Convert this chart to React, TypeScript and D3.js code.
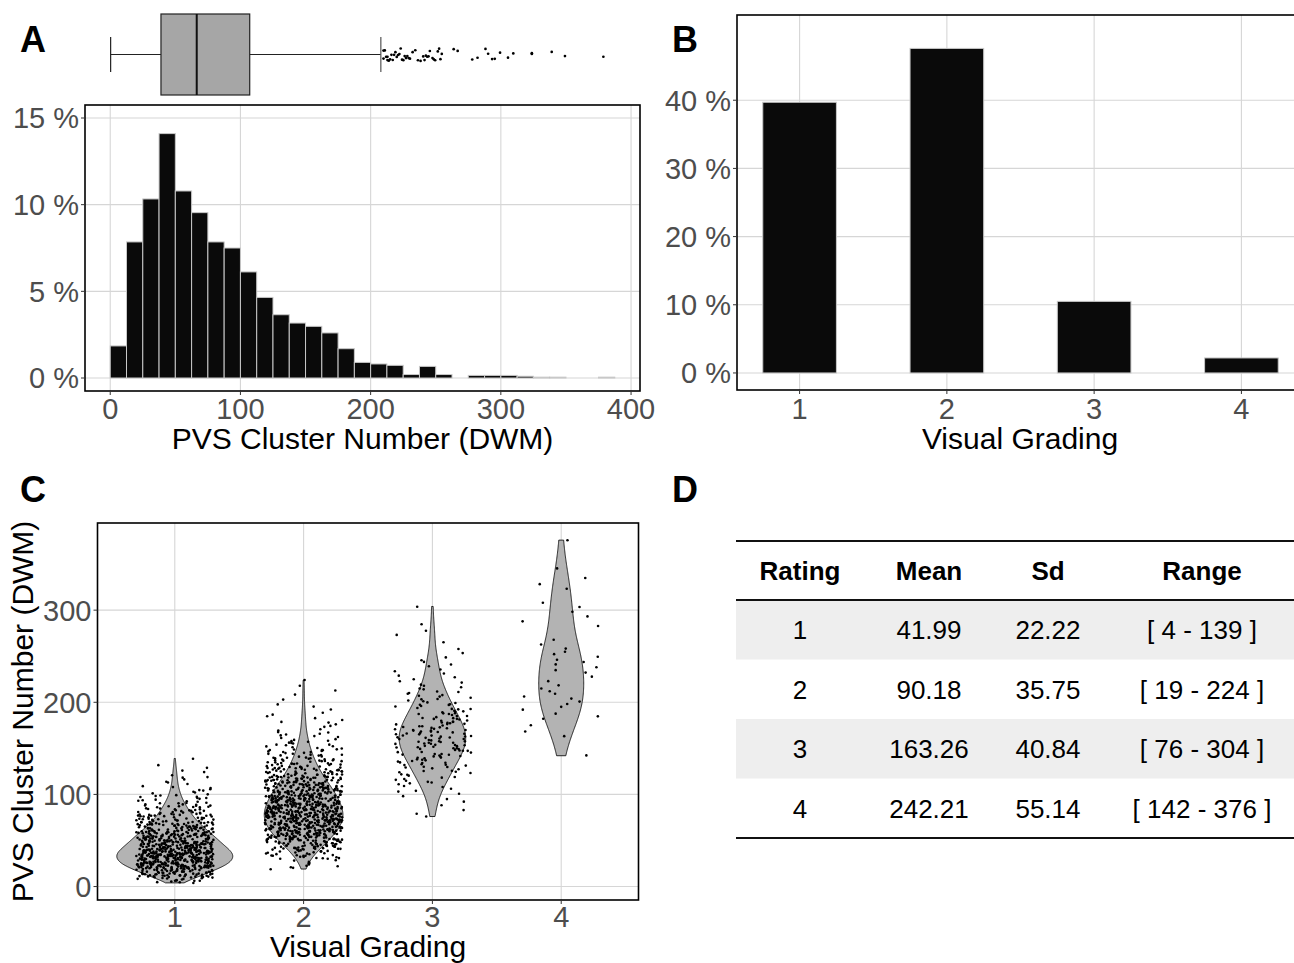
import React from 'react';
import * as d3 from 'd3';

// ---------------- DATA ----------------
// Panel A: histogram (bin width 12.5, starting at 0), percent of subjects
const histBinWidth = 12.5;
const histPercents = [1.85, 7.85, 10.33, 14.1, 10.79, 9.54, 7.85, 7.5, 6.12, 4.65, 3.65, 3.17, 2.98, 2.6, 1.69, 0.9, 0.81, 0.73, 0.2, 0.67, 0.2, 0, 0.15, 0.15, 0.15, 0.1, 0.05, 0.05, 0, 0, 0.05];
const histXTicks = [0, 100, 200, 300, 400];
const histYTicks = [0, 5, 10, 15];

// Panel A: boxplot summary [lower whisker, Q1, median, Q3, upper whisker]
const boxSummary = [4, 42, 69, 109, 208];
const boxOutliers = [210, 210, 211, 212, 213, 213, 214, 215, 216, 217, 218, 219, 220, 221, 222, 223, 224, 225, 226, 227, 228, 229, 230, 232, 234, 236, 238, 240, 241, 242, 243, 244, 245, 247, 248, 249, 251, 252, 253, 254, 263, 266, 277, 281, 287, 289, 292, 294, 298, 304, 308, 322, 322, 337, 347, 376];

// Panel B: visual grading distribution
const grades = [1, 2, 3, 4];
const gradePercents = [39.7, 47.6, 10.5, 2.2];
const gradeYTicks = [0, 10, 20, 30, 40];

// Panel C: PVS counts per grade, binned (bin width 10) counts
const clusterBinWidth = 10;
const g1Start = 0;
const g1Counts = [16, 74, 125, 135, 108, 87, 62, 42, 28, 17, 9, 6, 4, 2];
const g2Start = 10;
const g2Counts = [2, 10, 28, 55, 80, 100, 110, 105, 95, 80, 62, 45, 33, 22, 15, 9, 6, 5, 3, 2, 2, 1];
const g3Start = 70;
const g3Counts = [2, 2, 3, 6, 9, 12, 15, 19, 21, 22, 19, 16, 13, 10, 7, 5, 4, 4, 2, 1, 2, 1, 0, 1];
const g4Start = 140;
const g4Counts = [1, 0, 2, 1, 3, 3, 4, 3, 2, 3, 4, 3, 2, 0, 2, 2, 2, 0, 2, 1, 1, 0, 0, 1];
const groupMins = [4, 19, 76, 142];
const groupMaxs = [139, 224, 304, 376];
const violinYTicks = [0, 100, 200, 300];

// Panel D: table
const tableHeaders = ['Rating', 'Mean', 'Sd', 'Range'];
const tableRating = ['1', '2', '3', '4'];
const tableMean = ['41.99', '90.18', '163.26', '242.21'];
const tableSd = ['22.22', '35.75', '40.84', '55.14'];
const tableRange = ['[ 4 - 139 ]', '[ 19 - 224 ]', '[ 76 - 304 ]', '[ 142 - 376 ]'];

// ---------------- HELPERS ----------------
const FONT = '"Liberation Sans", Arial, Helvetica, sans-serif';
const GRID = '#d6d6d6';
const TICKC = '#333333';
const TICKTXT = '#4d4d4d';
const TICK_FS = 29;
const TITLE_FS = 30;

function expandBins(start: number, width: number, counts: number[], min: number, max: number): number[] {
  const vals: number[] = [];
  counts.forEach((c, i) => {
    const lo = Math.max(start + i * width, min);
    const hi = Math.min(start + (i + 1) * width, max);
    for (let k = 0; k < c; k++) vals.push(Math.round(lo + ((k + 0.5) / c) * (hi - lo)));
  });
  vals[0] = min;
  vals[vals.length - 1] = max;
  return vals;
}

function kde(values: number[], lo: number, hi: number, n = 256): [number, number][] {
  const sorted = values.slice().sort((a, b) => a - b);
  const sd = d3.deviation(sorted) || 1;
  const iqr = (d3.quantile(sorted, 0.75)! - d3.quantile(sorted, 0.25)!) / 1.34;
  const bw = 0.9 * Math.min(sd, iqr > 0 ? iqr : sd) * Math.pow(sorted.length, -0.2);
  const out: [number, number][] = [];
  for (let i = 0; i < n; i++) {
    const y = lo + ((hi - lo) * i) / (n - 1);
    let s = 0;
    for (const v of sorted) {
      const z = (y - v) / bw;
      s += Math.exp(-0.5 * z * z);
    }
    out.push([y, s / (sorted.length * bw * Math.sqrt(2 * Math.PI))]);
  }
  return out;
}

const frac = (x: number) => x - Math.floor(x);
// deterministic hash in [0,1) used only for jitter offsets (position, not data)
const hash = (a: number, b: number) => frac(Math.sin(a * 12.9898 + b * 78.233) * 43758.5453);

export default function App() {
  // ---------- Panel A scales ----------
  const xH = d3.scaleLinear().domain([-19.375, 406.875]).range([85, 640]);
  const yH = d3.scaleLinear().domain([-0.75, 15.75]).range([391, 105]);
  const xBx = d3.scaleLinear().domain([-14.6, 394.6]).range([86, 628]);
  const boxTop = 14, boxBot = 95, boxMid = 54.5;

  // ---------- Panel B scales ----------
  const xG = d3.scaleLinear().domain([0.575, 4.425]).range([737, 1304]);
  const yG = d3.scaleLinear().domain([-2.5, 52.5]).range([390, 15]);

  // ---------- Panel C scales ----------
  const xV = d3.scaleLinear().domain([0.4, 4.6]).range([97.5, 638.5]);
  const yV = d3.scaleLinear().domain([-14.6, 394.6]).range([900, 523]);
  const band = xV(2) - xV(1);

  const groupsData = [
    expandBins(g1Start, clusterBinWidth, g1Counts, groupMins[0], groupMaxs[0]),
    expandBins(g2Start, clusterBinWidth, g2Counts, groupMins[1], groupMaxs[1]),
    expandBins(g3Start, clusterBinWidth, g3Counts, groupMins[2], groupMaxs[2]),
    expandBins(g4Start, clusterBinWidth, g4Counts, groupMins[3], groupMaxs[3]),
  ];
  const densities = groupsData.map((vals, i) => kde(vals, groupMins[i], groupMaxs[i]));
  const maxDens = d3.max(densities.flat(), (d) => d[1]) || 1;

  const violinPaths = densities.map((dens, i) => {
    const cx = xV(grades[i]);
    const area = d3
      .area<[number, number]>()
      .y((d) => yV(d[0]))
      .x0((d) => cx - (d[1] / maxDens) * 0.45 * band)
      .x1((d) => cx + (d[1] / maxDens) * 0.45 * band);
    return area(dens) || '';
  });

  const points: { x: number; y: number }[] = [];
  groupsData.forEach((vals, gi) => {
    vals.forEach((v, k) => {
      const jx = (hash(k + 1, gi + 1) * 2 - 1) * 0.3;
      const jy = (hash(k + 7, gi + 31) * 2 - 1) * 0.4;
      points.push({ x: xV(grades[gi] + jx), y: yV(v + jy) });
    });
  });

  const axisText = { fontFamily: FONT, fontSize: TICK_FS, fill: TICKTXT } as const;
  const titleText = { fontFamily: FONT, fontSize: TITLE_FS, fill: '#000' } as const;
  const labelText = { fontFamily: FONT, fontSize: 36, fontWeight: 700, fill: '#000' } as const;

  // table layout
  const tblLeft = 736, tblRight = 1294;
  const colX = [800, 929, 1048, 1202];
  const tblTop = 541, headBot = 600, rowH = 59.5;

  const rowCells = tableRating.map((r, i) => [r, tableMean[i], tableSd[i], tableRange[i]]);

  return (
    <svg width={1294} height={963} style={{ position: 'absolute', left: 0, top: 0, background: '#fff' }}>
      <rect x={0} y={0} width={1294} height={963} fill="#fff" />

      {/* ===== Panel A: boxplot ===== */}
      <g>
        <line x1={xBx(boxSummary[0])} x2={xBx(boxSummary[1])} y1={boxMid} y2={boxMid} stroke="#222" strokeWidth={1.2} />
        <line x1={xBx(boxSummary[3])} x2={xBx(boxSummary[4])} y1={boxMid} y2={boxMid} stroke="#222" strokeWidth={1.2} />
        <line x1={xBx(boxSummary[0])} x2={xBx(boxSummary[0])} y1={37} y2={72} stroke="#222" strokeWidth={1.2} />
        <line x1={xBx(boxSummary[4])} x2={xBx(boxSummary[4])} y1={37} y2={72} stroke="#555" strokeWidth={1.2} />
        <rect
          x={xBx(boxSummary[1])}
          y={boxTop}
          width={xBx(boxSummary[3]) - xBx(boxSummary[1])}
          height={boxBot - boxTop}
          fill="#a6a6a6"
          stroke="#222"
          strokeWidth={1.2}
        />
        <line x1={xBx(boxSummary[2])} x2={xBx(boxSummary[2])} y1={boxTop} y2={boxBot} stroke="#111" strokeWidth={2} />
        {boxOutliers.map((v, i) => (
          <circle key={i} cx={xBx(v)} cy={boxMid + (hash(i + 3, 5) * 2 - 1) * 6.5} r={1.35} fill="#000" />
        ))}
      </g>

      {/* ===== Panel A: histogram ===== */}
      <g>
        {histXTicks.map((t) => (
          <line key={'gx' + t} x1={xH(t)} x2={xH(t)} y1={105} y2={391} stroke={GRID} strokeWidth={1.1} />
        ))}
        {histYTicks.map((t) => (
          <line key={'gy' + t} x1={85} x2={640} y1={yH(t)} y2={yH(t)} stroke={GRID} strokeWidth={1.1} />
        ))}
        {histPercents.map((p, i) => (
          <rect
            key={i}
            x={xH(i * histBinWidth)}
            y={yH(p)}
            width={xH((i + 1) * histBinWidth) - xH(i * histBinWidth)}
            height={yH(0) - yH(p)}
            fill="#0a0a0a"
            stroke="#c8c8c8"
            strokeWidth={1}
          />
        ))}
        <rect x={85} y={105} width={555} height={286} fill="none" stroke="#000" strokeWidth={1.6} />
        {histYTicks.map((t) => (
          <g key={'ty' + t}>
            <line x1={81} x2={85} y1={yH(t)} y2={yH(t)} stroke={TICKC} strokeWidth={1} />
            <text x={79} y={yH(t)} dy="0.36em" textAnchor="end" {...axisText}>{t} %</text>
          </g>
        ))}
        {histXTicks.map((t) => (
          <g key={'tx' + t}>
            <line x1={xH(t)} x2={xH(t)} y1={391} y2={395} stroke={TICKC} strokeWidth={1} />
            <text x={xH(t)} y={418.5} textAnchor="middle" {...axisText}>{t}</text>
          </g>
        ))}
        <text x={362.5} y={449} textAnchor="middle" {...titleText}>PVS Cluster Number (DWM)</text>
      </g>

      {/* ===== Panel B ===== */}
      <g>
        {grades.map((g) => (
          <line key={'bgx' + g} x1={xG(g)} x2={xG(g)} y1={15} y2={390} stroke={GRID} strokeWidth={1.1} />
        ))}
        {gradeYTicks.map((t) => (
          <line key={'bgy' + t} x1={737} x2={1304} y1={yG(t)} y2={yG(t)} stroke={GRID} strokeWidth={1.1} />
        ))}
        {gradePercents.map((p, i) => (
          <rect
            key={i}
            x={xG(grades[i] - 0.25)}
            y={yG(p)}
            width={xG(grades[i] + 0.25) - xG(grades[i] - 0.25)}
            height={yG(0) - yG(p)}
            fill="#0a0a0a"
            stroke="#c8c8c8"
            strokeWidth={1}
          />
        ))}
        <rect x={737} y={15} width={600} height={375} fill="none" stroke="#000" strokeWidth={1.6} />
        {gradeYTicks.map((t) => (
          <g key={'bty' + t}>
            <line x1={733} x2={737} y1={yG(t)} y2={yG(t)} stroke={TICKC} strokeWidth={1} />
            <text x={731} y={yG(t)} dy="0.36em" textAnchor="end" {...axisText}>{t} %</text>
          </g>
        ))}
        {grades.map((g) => (
          <g key={'btx' + g}>
            <line x1={xG(g)} x2={xG(g)} y1={390} y2={394} stroke={TICKC} strokeWidth={1} />
            <text x={xG(g)} y={418.5} textAnchor="middle" {...axisText}>{g}</text>
          </g>
        ))}
        <text x={1020} y={449} textAnchor="middle" {...titleText}>Visual Grading</text>
      </g>

      {/* ===== Panel C ===== */}
      <g>
        {grades.map((g) => (
          <line key={'cgx' + g} x1={xV(g)} x2={xV(g)} y1={523} y2={900} stroke={GRID} strokeWidth={1.1} />
        ))}
        {violinYTicks.map((t) => (
          <line key={'cgy' + t} x1={97.5} x2={638.5} y1={yV(t)} y2={yV(t)} stroke={GRID} strokeWidth={1.1} />
        ))}
        {violinPaths.map((d, i) => (
          <path key={'v' + i} d={d} fill="#b3b3b3" stroke="#111" strokeWidth={0.9} />
        ))}
        {points.map((p, i) => (
          <circle key={'p' + i} cx={p.x} cy={p.y} r={1.3} fill="#000" />
        ))}
        <rect x={97.5} y={523} width={541} height={377} fill="none" stroke="#000" strokeWidth={1.6} />
        {violinYTicks.map((t) => (
          <g key={'cty' + t}>
            <line x1={93.5} x2={97.5} y1={yV(t)} y2={yV(t)} stroke={TICKC} strokeWidth={1} />
            <text x={91.5} y={yV(t)} dy="0.36em" textAnchor="end" {...axisText}>{t}</text>
          </g>
        ))}
        {grades.map((g) => (
          <g key={'ctx' + g}>
            <line x1={xV(g)} x2={xV(g)} y1={900} y2={904} stroke={TICKC} strokeWidth={1} />
            <text x={xV(g)} y={927} textAnchor="middle" {...axisText}>{g}</text>
          </g>
        ))}
        <text x={368} y={957} textAnchor="middle" {...titleText}>Visual Grading</text>
        <text
          transform={`translate(33, ${(523 + 900) / 2}) rotate(-90)`}
          textAnchor="middle"
          {...titleText}
        >
          PVS Cluster Number (DWM)
        </text>
      </g>

      {/* ===== Panel D: table ===== */}
      <g>
        {rowCells.map((_, i) =>
          i % 2 === 0 ? (
            <rect key={'sh' + i} x={tblLeft} y={headBot + i * rowH} width={tblRight - tblLeft} height={rowH} fill="#eeeeee" />
          ) : null
        )}
        <line x1={tblLeft} x2={tblRight} y1={tblTop} y2={tblTop} stroke="#111" strokeWidth={2} />
        <line x1={tblLeft} x2={tblRight} y1={headBot} y2={headBot} stroke="#111" strokeWidth={2} />
        <line x1={tblLeft} x2={tblRight} y1={headBot + 4 * rowH} y2={headBot + 4 * rowH} stroke="#111" strokeWidth={2} />
        {tableHeaders.map((h, j) => (
          <text key={'h' + j} x={colX[j]} y={(tblTop + headBot) / 2} dy="0.36em" textAnchor="middle" fontFamily={FONT} fontSize={26} fontWeight={700} fill="#000">
            {h}
          </text>
        ))}
        {rowCells.map((row, i) =>
          row.map((c, j) => (
            <text key={'c' + i + '_' + j} x={colX[j]} y={headBot + i * rowH + rowH / 2} dy="0.36em" textAnchor="middle" fontFamily={FONT} fontSize={26} fill="#000">
              {c}
            </text>
          ))
        )}
      </g>

      {/* Panel labels */}
      <text x={20} y={52} {...labelText}>A</text>
      <text x={672} y={52} {...labelText}>B</text>
      <text x={20} y={502} {...labelText}>C</text>
      <text x={672} y={502} {...labelText}>D</text>
    </svg>
  );
}
